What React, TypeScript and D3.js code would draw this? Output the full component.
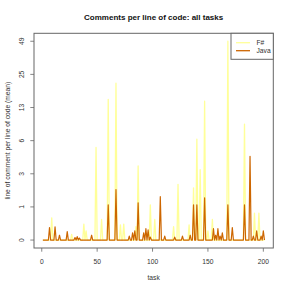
import React from "react";
import * as d3 from "d3";

const fsharp: number[] = [
  0, 0, 0, 0, 0, 0, 0, 0, 0.55, 0, 0, 0, 0, 0, 0, 0, 0, 0, 0, 0,
  0, 0, 0, 0, 0, 0, 0.12, 0, 0, 0, 0, 0, 0, 0, 0, 0, 0, 0.37, 0, 0.2,
  0, 0, 0, 0, 0, 0, 0, 0, 5.2, 0, 0, 0, 0, 0.5, 0, 0, 0, 0, 0, 15,
  0, 0, 0, 0, 0, 0, 21, 0, 0, 0, 0.35, 0, 0, 0.37, 0, 0, 0, 0, 0, 0,
  0, 0, 0, 0, 0.3, 0, 3.3, 0, 0, 0, 0, 0, 0, 0, 0, 0, 0, 1.0, 0, 0,
  0, 0.5, 0, 0, 0, 0, 0, 0, 0, 0, 0, 0, 0, 0, 0, 0, 0, 0, 0.3, 0,
  0, 0, 2.0, 0, 0, 0, 0, 0, 0, 0, 0, 0, 0.35, 0, 0, 0, 1.8, 0, 0, 6.3,
  0, 0, 3.0, 0, 0, 0, 14.4, 0, 0, 0.2, 0, 0, 0, 0.5, 0, 0, 0, 0, 0, 0,
  0, 0, 0, 0, 0, 0, 0, 49.2, 0, 0, 0, 0, 0, 0, 0, 0, 0, 0, 0, 0,
  0, 0, 8.8, 0, 0, 0, 0, 0, 0, 0, 0, 0.7, 0, 0, 0, 0.7, 0, 0, 0, 0,
  0,
];

const java: number[] = [
  0, 0, 0, 0, 0, 0, 0.28, 0, 0, 0, 0, 0.3, 0, 0, 0, 0.1, 0, 0, 0, 0,
  0, 0, 0.18, 0, 0, 0, 0, 0, 0, 0.05, 0, 0.07, 0, 0.04, 0, 0, 0, 0, 0, 0,
  0, 0, 0, 0, 0.1, 0, 0, 0, 0, 0, 0, 0, 0, 0, 0, 0, 0, 0, 0, 1.0,
  0, 0, 0, 0, 0, 0, 1.7, 0, 0, 0, 0, 0, 0, 0, 0, 0, 0, 0, 0.08, 0,
  0, 0.15, 0, 0.2, 0, 0, 1.08, 0, 0, 0, 0, 0.15, 0, 0.25, 0, 0.22, 0, 0.06, 0, 0,
  0, 0, 0, 0, 0, 0, 1.35, 0, 0, 0, 0.08, 0, 0, 0, 0, 0, 0, 0, 0, 0.06,
  0, 0, 0, 0, 0, 0, 0.08, 0, 0, 0, 0, 0, 0, 0.1, 0, 0, 1.0, 0, 0, 1.0,
  0, 0, 0, 0, 0, 0, 1.3, 0, 0, 0, 0, 0, 0, 0, 0.25, 0, 0.1, 0, 0.25, 0,
  0.08, 0, 0.15, 0, 0, 0, 0, 1.0, 0, 0, 0, 0.28, 0, 0, 0, 0, 0, 0, 0, 0,
  0, 0, 1.0, 0, 0, 0, 0, 4.2, 0, 0, 0.08, 0, 0, 0.2, 0, 0, 0, 0.08, 0, 0.2,
  0,
];

const xTicks: number[] = [0, 50, 100, 150, 200];
const yTickLabels: string[] = ["0", "1", "3", "6", "13", "25", "49"];
const seriesNames: string[] = ["F#", "Java"];
const seriesColors: string[] = ["#FFFF99", "#CD6600"];

const W = 291;
const H = 291;
const box = { left: 34, right: 273.3, top: 33.3, bottom: 248 };
const FONT = "'Liberation Sans', Arial, Helvetica, sans-serif";

export default function App() {
  const n = fsharp.length;
  const allVals = fsharp.concat(java);
  const tMax = Math.log1p(d3.max(allVals) as number);
  const xPad = (n - 1) * 0.04;
  const x = d3.scaleLinear().domain([1 - xPad, n + xPad]).range([box.left, box.right]);
  const yPad = tMax * 0.04;
  const y = d3.scaleLinear().domain([-yPad, tMax + yPad]).range([box.bottom, box.top]);

  const line = d3
    .line<number>()
    .x((_, i) => x(i + 1))
    .y((v) => y(Math.log1p(v)));

  const yTickPos = yTickLabels.map((_, i) => (tMax * i) / (yTickLabels.length - 1));
  const axisColor = "#666";
  const textColor = "#333";
  const fs = 6.7;

  return (
    <svg width={W} height={H} style={{ position: "absolute", left: 0, top: 0, background: "#fff" }}>
      <rect x={0} y={0} width={W} height={H} fill="#fff" />
      <text x={(box.left + box.right) / 2} y={20} textAnchor="middle" fontFamily={FONT} fontWeight="bold" fontSize={8} fill="#111">
        Comments per line of code: all tasks
      </text>

      <path d={line(fsharp) || ""} fill="none" stroke={seriesColors[0]} strokeWidth={1.3} strokeLinejoin="round" />
      <path d={line(java) || ""} fill="none" stroke={seriesColors[1]} strokeWidth={1.2} strokeLinejoin="round" />

      <rect x={box.left} y={box.top} width={box.right - box.left} height={box.bottom - box.top} fill="none" stroke={axisColor} strokeWidth={1} />

      {xTicks.map((t) => (
        <g key={"x" + t}>
          <line x1={x(t)} x2={x(t)} y1={box.bottom} y2={box.bottom + 3.7} stroke={axisColor} strokeWidth={0.8} />
          <text x={x(t)} y={263.6} textAnchor="middle" fontFamily={FONT} fontSize={fs} fill={textColor}>
            {t}
          </text>
        </g>
      ))}
      {yTickPos.map((p, i) => (
        <g key={"y" + i}>
          <line x1={box.left - 3.7} x2={box.left} y1={y(p)} y2={y(p)} stroke={axisColor} strokeWidth={0.8} />
          <text
            transform={`translate(${24.2},${y(p)}) rotate(-90)`}
            textAnchor="middle"
            fontFamily={FONT}
            fontSize={fs}
            fill={textColor}
          >
            {yTickLabels[i]}
          </text>
        </g>
      ))}

      <text x={(box.left + box.right) / 2} y={279.6} textAnchor="middle" fontFamily={FONT} fontSize={fs} fill={textColor}>
        task
      </text>
      <text
        transform={`translate(${10},${(box.top + box.bottom) / 2}) rotate(-90)`}
        textAnchor="middle"
        fontFamily={FONT}
        fontSize={fs}
        fill={textColor}
      >
        line of comment per line of code (mean)
      </text>

      <g>
        <rect x={231} y={box.top} width={box.right - 231} height={26} fill="#fff" stroke={axisColor} strokeWidth={1} />
        {seriesNames.map((name, i) => (
          <g key={name}>
            <line x1={236} x2={250} y1={42.7 + i * 8} y2={42.7 + i * 8} stroke={seriesColors[i]} strokeWidth={1.3} />
            <text x={256.5} y={42.7 + i * 8 + 2.4} fontFamily={FONT} fontSize={fs} fill={textColor}>
              {name}
            </text>
          </g>
        ))}
      </g>
    </svg>
  );
}
